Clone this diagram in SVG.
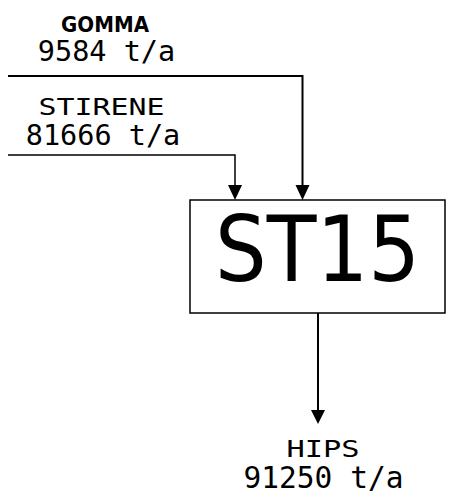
<svg xmlns="http://www.w3.org/2000/svg" width="455" height="494" viewBox="0 0 455 494">
<style>
.mono{font-family:"DejaVu Sans Mono","Liberation Mono",monospace;fill:#000;text-anchor:middle}
.ln{fill:none;stroke:#000}
</style>
<rect width="455" height="494" fill="#fff"/>
<g id="connectors">
<polyline class="ln" stroke-width="2" points="8,76 302.5,76 302.5,185"/>
<path d="M295.5,185 L309.5,185 L302.5,200 Z" fill="#000"/>
<polyline class="ln" stroke-width="1.5" points="8,155 235,155 235,185"/>
<path d="M228,185 L242,185 L235,200 Z" fill="#000"/>
<line class="ln" stroke-width="2" x1="318" y1="313" x2="318" y2="410"/>
<path d="M311,410 L325,410 L318,424 Z" fill="#000"/>
</g>
<g id="ST15">
<rect x="190" y="200" width="255" height="113" fill="#fff" stroke="#000" stroke-width="1.5"/>
<text x="317.5" y="281" font-family="DejaVu Sans,Verdana,sans-serif" font-size="90" text-anchor="middle" textLength="205" lengthAdjust="spacingAndGlyphs">ST15</text>
</g>
<g id="GOMMA">
<text x="105" y="32" font-family="DejaVu Sans,sans-serif" font-weight="bold" font-size="22" text-anchor="middle" textLength="88" lengthAdjust="spacingAndGlyphs">GOMMA</text>
<text class="mono" x="106.5" y="61" font-size="28.5">9584 t/a</text>
</g>
<g id="STIRENE">
<text class="mono" x="101.5" y="114.5" font-size="23.5" textLength="126" lengthAdjust="spacingAndGlyphs">STIRENE</text>
<text class="mono" x="103" y="145" font-size="28.5">81666 t/a</text>
</g>
<g id="HIPS">
<text class="mono" x="323" y="457" font-size="23" textLength="73" lengthAdjust="spacingAndGlyphs">HIPS</text>
<text class="mono" x="323.5" y="488" font-size="29.5">91250 t/a</text>
</g>
</svg>
